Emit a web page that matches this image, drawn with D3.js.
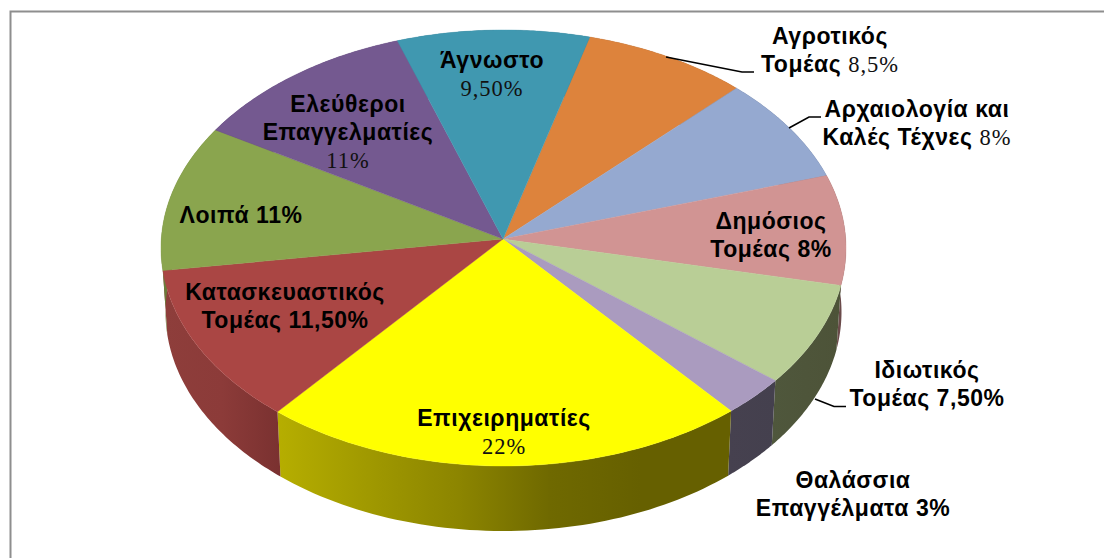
<!DOCTYPE html>
<html><head><meta charset="utf-8">
<script src="https://cdn.jsdelivr.net/npm/d3@7"></script>
<style>html,body{margin:0;padding:0;background:#fff;overflow:hidden}svg{display:block}
text{font-family:"Liberation Sans",Arial,sans-serif;font-weight:bold;font-size:23px;letter-spacing:.55px;fill:#000}
.v{font-family:"Liberation Serif","Times New Roman",serif;font-weight:normal;font-size:22.5px;fill:#111;letter-spacing:1px}</style>
</head><body><svg id="c" width="1104" height="558"></svg>
<script>
const categories=["Αγροτικός Τομέας","Αρχαιολογία και Καλές Τέχνες","Δημόσιος Τομέας","Ιδιωτικός Τομέας","Θαλάσσια Επαγγέλματα","Επιχειρηματίες","Κατασκευαστικός Τομέας","Λοιπά","Ελεύθεροι Επαγγελματίες","Άγνωστο"];
const values=[8.5,8,8,7.5,3,22,11.5,11,11,9.5];
// label rows; text after "|" is set in the serif value face
const labelRows=[["Αγροτικός","Τομέας |8,5%"],["Αρχαιολογία και","Καλές Τέχνες |8%"],["Δημόσιος","Τομέας 8%"],["Ιδιωτικός","Τομέας 7,50%"],["Θαλάσσια","Επαγγέλματα 3%"],["Επιχειρηματίες","|22%"],["Κατασκευαστικός","Τομέας 11,50%"],["Λοιπά 11%"],["Ελεύθεροι","Επαγγελματίες","|11%"],["Άγνωστο","|9,50%"]];
// styles and layout, kept apart from the data
const topColors=["#dd833c","#95a9d0","#d19493","#b9ce96","#aa9bbf","#ffff00","#aa4644","#8aa54e","#745990","#4098b0"];
const wallStops=[["#8a5a2e","#8a5a2e"],["#5c6a85","#5c6a85"],["#7a5454","#6a4a4a"],["#4f573c","#4d5338"],["#46414f","#44404e"],["#b6ae00","#a09900","#8c8500","#6f6900","#666000","#666000"],["#8e3e3b","#8c3b39","#7a3130"],["#6a7d3a","#6a7d3a"],["#54406a","#54406a"],["#2f7084","#2f7084"]];
const labelPos=[[830,44],[917,117],[771,229],[927,378],[853,488],[504,426],[285,300],[241,223],[348,112],[492,68]];
const rowGap=28.2;
const leaders=[[[666,57],[742,72],[754,72]],[[789,128],[809,117],[821,117]],null,[[815,399],[834,406.5],[846,406.5]],null,null,null,null,null,null];
const topE={cx:503.5,cy:248,rx:342.5,ry:218}, botE={cx:503.5,cy:312,rx:338,ry:219}, apex=[503,239];
const deg=Math.PI/180;
// perspective shift of the disc
const warp=t=>t+.35*deg-3*deg*Math.sin(t-10*deg)+.6*deg*Math.cos(3*t);
const pt=(e,t)=>{const w=warp(t);return [e.cx+e.rx*Math.sin(w),e.cy-e.ry*Math.cos(w)];};
const samples=(a,b)=>d3.range(0,61).map(i=>a+(b-a)*i/60);
const line=d3.line();
const arcs=d3.pie().sort(null).startAngle(14*deg).endAngle(374*deg)(values);
const svg=d3.select("#c");
const defs=svg.append("defs");
arcs.forEach((d,i)=>{
  const xs=[pt(botE,d.startAngle)[0],pt(botE,d.endAngle)[0],pt(topE,d.startAngle)[0],pt(topE,d.endAngle)[0]];
  const g=defs.append("linearGradient").attr("id","w"+i).attr("gradientUnits","userSpaceOnUse")
    .attr("x1",d3.min(xs)).attr("x2",d3.max(xs)).attr("y1",0).attr("y2",0);
  wallStops[i].forEach((c,k,a)=>g.append("stop").attr("offset",k/(a.length-1)).attr("stop-color",c));
});
// image frame: top and left edges only
svg.append("path").attr("d","M10.5,558V11.5H1104").attr("fill","none").attr("stroke","#8e8e8e").attr("stroke-width",2);
// side walls
svg.append("g").selectAll("path").data(arcs).join("path")
  .attr("d",d=>{const s=samples(d.startAngle,d.endAngle);return line(s.map(t=>pt(topE,t)).concat(s.slice().reverse().map(t=>pt(botE,t))))+"Z";})
  .attr("fill",(d,i)=>`url(#w${i})`);
// top faces
svg.append("g").selectAll("path").data(arcs).join("path")
  .attr("d",d=>line([apex].concat(samples(d.startAngle,d.endAngle).map(t=>pt(topE,t))))+"Z")
  .attr("fill",(d,i)=>topColors[i]).attr("stroke",(d,i)=>topColors[i]).attr("stroke-width",.4);
// leaders
svg.append("g").selectAll("path").data(leaders.filter(Boolean)).join("path")
  .attr("d",line).attr("fill","none").attr("stroke","#000").attr("stroke-width",1.6);
// labels
const lg=svg.append("g");
labelRows.forEach((rows,i)=>{
  rows.forEach((r,k)=>{
    const t=lg.append("text").attr("x",labelPos[i][0]).attr("y",labelPos[i][1]+k*rowGap).attr("text-anchor","middle");
    const [b,v]=r.split("|");
    if(b)t.append("tspan").text(b);
    if(v!==undefined)t.append("tspan").attr("class","v").text(v);
  });
});
</script></body></html>
